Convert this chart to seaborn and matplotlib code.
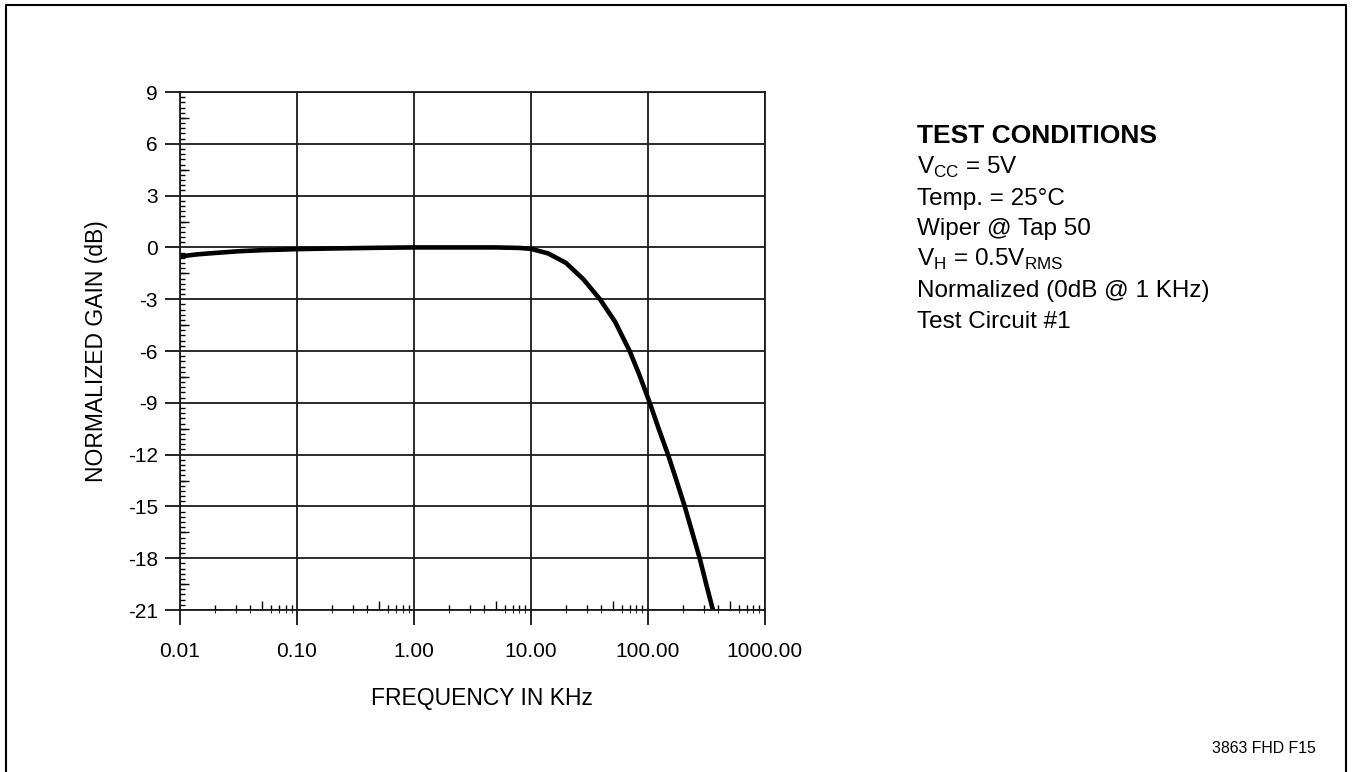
import numpy as np
import pandas as pd
import matplotlib.pyplot as plt
import matplotlib.ticker as mticker
from matplotlib.lines import Line2D
import seaborn as sns

# curva de resposta em frequência
freq_khz = [0.01, 0.0141, 0.02, 0.032, 0.05, 0.1, 0.2, 0.5, 1.0, 2.0, 5.0, 8.0,
            10.0, 14.1, 20.0, 28.2, 39.0, 52.5, 70.0, 85.0, 104.0, 124.0,
            149.0, 176.0, 207.0, 240.0, 278.0, 316.0, 361.0]
gain_db = [-0.52, -0.4, -0.32, -0.22, -0.16, -0.1, -0.06, -0.02, 0.0, 0.0, 0.0, -0.03,
           -0.08, -0.35, -0.9, -1.85, -3.0, -4.3, -6.0, -7.4, -9.0, -10.5,
           -12.0, -13.5, -15.0, -16.5, -18.0, -19.5, -21.0]

x_ticks = [0.01, 0.1, 1, 10, 100, 1000]
x_tick_labels = ["0.01", "0.10", "1.00", "10.00", "100.00", "1000.00"]
y_ticks = [9, 6, 3, 0, -3, -6, -9, -12, -15, -18, -21]

test_conditions = [r"V$_{\mathregular{CC}}$ = 5V",
                   "Temp. = 25°C",
                   "Wiper @ Tap 50",
                   r"V$_{\mathregular{H}}$ = 0.5V$_{\mathregular{RMS}}$",
                   "Normalized (0dB @ 1 KHz)",
                   "Test Circuit #1"]

sns.set_style("white")
plt.rcParams['font.family'] = ['Liberation Sans', 'DejaVu Sans']
plt.rcParams['mathtext.fontset'] = 'custom'
plt.rcParams['mathtext.rm'] = 'Liberation Sans'
plt.rcParams['text.color'] = 'black'
plt.rcParams['axes.labelcolor'] = 'black'
plt.rcParams['xtick.color'] = 'black'
plt.rcParams['ytick.color'] = 'black'

dados = pd.DataFrame({"freq": freq_khz, "gain": gain_db})

fig = plt.figure(figsize=(13.53, 7.72), dpi=100)
ax = fig.add_axes([0.133, 0.2098, 0.4322, 0.671])

sns.lineplot(data=dados, x="freq", y="gain", color="black", linewidth=3.3, ax=ax)

ax.set_xscale("log")
ax.set_xlim(0.01, 1000)
ax.set_ylim(-21, 9)
ax.set_xticks(x_ticks)
ax.set_xticklabels(x_tick_labels)
ax.set_yticks(y_ticks)
ax.set_yticklabels([str(v) for v in y_ticks])
ax.xaxis.set_minor_locator(mticker.LogLocator(base=10, subs=[2, 3, 4, 6, 7, 8, 9]))
ax.xaxis.set_minor_formatter(mticker.NullFormatter())
ax.yaxis.set_minor_locator(mticker.MultipleLocator(0.3))

ax.grid(True, which="major", color="#1a1a1a", linewidth=1.3)
ax.tick_params(bottom=True, left=True, which="both")
ax.tick_params(which="major", direction="out", length=10.8, width=1.2, labelsize=15)
ax.tick_params(which="minor", direction="in", length=3.5, width=1.0)
ax.tick_params(axis="x", which="major", pad=12)
ax.tick_params(axis="y", which="major", pad=5)
for spine in ax.spines.values():
    spine.set_color("#1a1a1a")
    spine.set_linewidth(1.3)

# marcas mais longas no meio de cada década / intervalo
sec_x = ax.secondary_xaxis("bottom")
sec_x.set_xticks([0.05, 0.5, 5, 50, 500])
sec_x.set_xticklabels([])
sec_x.tick_params(direction="in", length=6.5, width=1.0, color="black")
sec_x.spines["bottom"].set_visible(False)

sec_y = ax.secondary_yaxis("left")
sec_y.set_yticks([7.5, 4.5, 1.5, -1.5, -4.5, -7.5, -10.5, -13.5, -16.5, -19.5])
sec_y.set_yticklabels([])
sec_y.tick_params(direction="in", length=6.5, width=1.0, color="black")
sec_y.spines["left"].set_visible(False)

ax.set_xlabel("FREQUENCY IN KHz", fontsize=16.5, labelpad=20)
ax.set_ylabel("NORMALIZED GAIN (dB)", fontsize=16.5, labelpad=14)
ax.xaxis.set_label_coords(0.517, -0.148)

# bloco de condições de teste
fig.text(0.678, 0.8148, "TEST CONDITIONS", fontsize=19, fontweight="bold", va="baseline")
for i, linha in enumerate(test_conditions):
    fig.text(0.678, 0.8148 - (i + 1) * 0.0399, linha, fontsize=17.5, va="baseline")

fig.text(0.9727, 0.0246, "3863 FHD F15", fontsize=11.4, ha="right", va="baseline")

# moldura aberta em baixo
fig.add_artist(Line2D([0.0044, 0.0044, 0.9948, 0.9948], [0.0, 0.9935, 0.9935, 0.0],
                      transform=fig.transFigure, color="black", linewidth=1.5))

plt.savefig("out.png", dpi=100)
